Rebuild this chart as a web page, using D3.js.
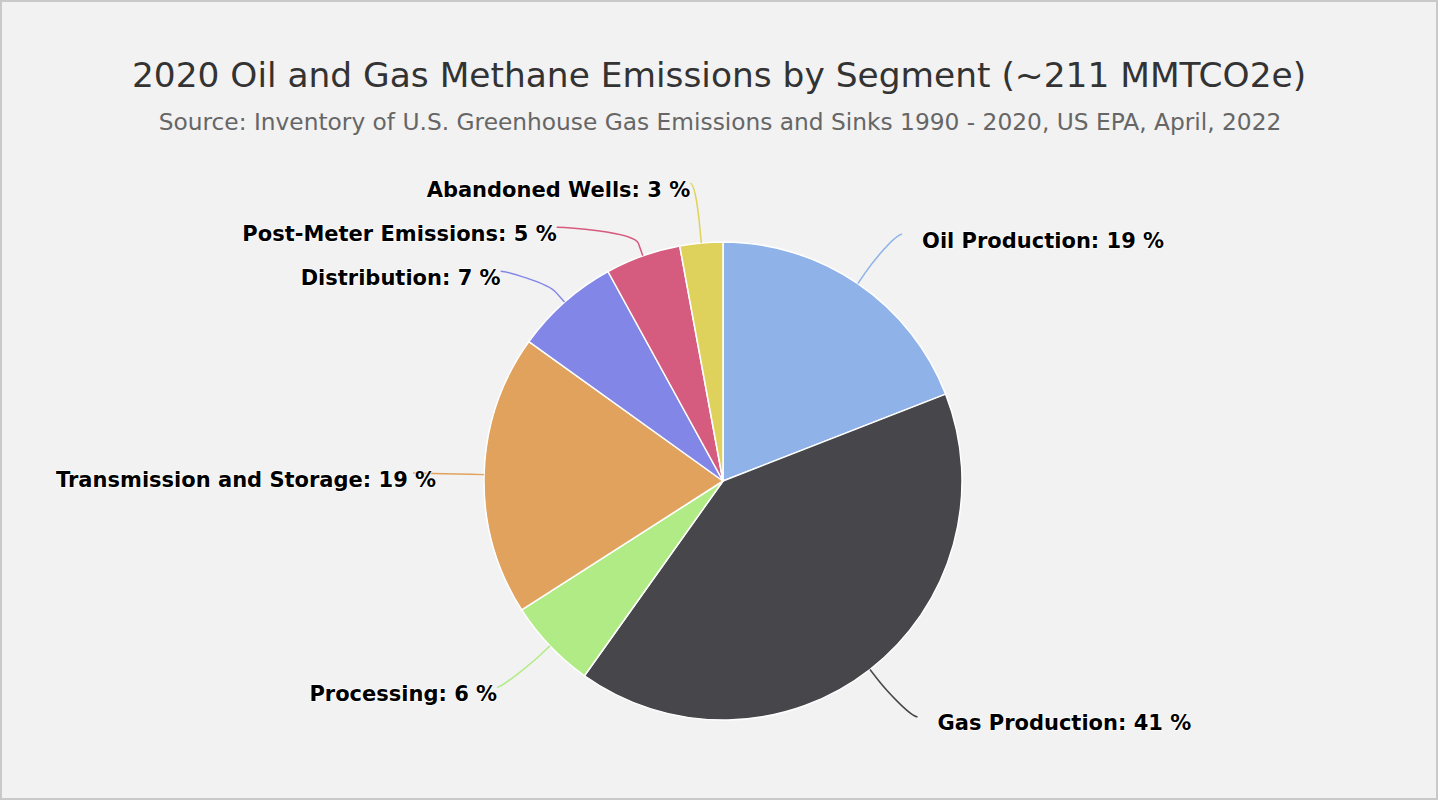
<!DOCTYPE html>
<html>
<head>
<meta charset="utf-8">
<script src="https://cdn.jsdelivr.net/npm/d3@7"></script>
<style>
  html, body { margin: 0; padding: 0; background: #fff; }
  svg { display: block; font-family: "DejaVu Sans", "Lucida Grande", sans-serif; }
</style>
</head>
<body>
<div id="chart"></div>
<script>
// Data (percent of ~211 MMTCO2e)
const segments = ["Oil Production", "Gas Production", "Processing", "Transmission and Storage",
                  "Distribution", "Post-Meter Emissions", "Abandoned Wells"];
const shares = [19.1, 40.8, 6.1, 19.0, 7.1, 5.1, 2.9];
const colors = ["#8fb2e9", "#46464b", "#b1eb85", "#e1a25e", "#8286e7", "#d55b7f", "#dfd25c"];

const titleText = "2020 Oil and Gas Methane Emissions by Segment (~211 MMTCO2e)";
const subtitleText = "Source: Inventory of U.S. Greenhouse Gas Emissions and Sinks 1990 - 2020, US EPA, April, 2022";

const W = 1440, H = 800;
const cx = 723, cy = 481, R = 239;
// Label settings
const LABEL_DIST_X = 66;   // horizontal reach of label anchors beyond slice edge
const LABEL_DIST_Y = 60;   // vertical reach
const LABEL_GAP = 44;      // min vertical spacing between labels on a side
const LABEL_TOP = 182, LABEL_BOTTOM = 740;
const LABEL_MIN_X = 56;

const svg = d3.select("#chart").append("svg")
    .attr("width", W)
    .attr("height", H);

svg.append("rect")
    .attr("x", 1).attr("y", 1)
    .attr("width", W - 4).attr("height", H - 2)
    .attr("fill", "#f2f2f2")
    .attr("stroke", "#c9c9c9")
    .attr("stroke-width", 2);

svg.append("text")
    .attr("x", 719).attr("y", 87)
    .attr("text-anchor", "middle")
    .attr("fill", "#333333")
    .style("font-size", "34.4px")
    .text(titleText);

svg.append("text")
    .attr("x", 720).attr("y", 130)
    .attr("text-anchor", "middle")
    .attr("fill", "#666666")
    .style("font-size", "23.3px")
    .text(subtitleText);

const pie = d3.pie().sort(null).value(d => d);
const arcs = pie(shares);
const arc = d3.arc().innerRadius(0).outerRadius(R);

const g = svg.append("g").attr("transform", `translate(${cx},${cy})`);

g.selectAll("path.slice")
    .data(arcs)
    .enter().append("path")
      .attr("class", "slice")
      .attr("d", arc)
      .attr("fill", (d, i) => colors[i])
      .attr("stroke", "#ffffff")
      .attr("stroke-width", 1.5)
      .attr("stroke-linejoin", "round");

// Label placement (natural position on outer ring, then pushed apart per side)
const RX = R + LABEL_DIST_X, RY = R + LABEL_DIST_Y;
const labels = arcs.map((d, i) => {
    const mid = (d.startAngle + d.endAngle) / 2;
    return {
        i: i,
        mid: mid,
        left: mid > Math.PI,
        ny: cy - RY * Math.cos(mid),
        text: segments[i] + ": " + Math.round(d.value) + " %"
    };
});

function distribute(list) {
    list.sort((a, b) => a.ny - b.ny);
    let prev = -Infinity;
    list.forEach(l => {
        l.y = Math.max(l.ny, prev + LABEL_GAP, LABEL_TOP);
        prev = l.y;
    });
    let next = Infinity;
    for (let k = list.length - 1; k >= 0; k--) {
        const l = list[k];
        l.y = Math.min(l.y, next - LABEL_GAP, LABEL_BOTTOM);
        next = l.y;
    }
}
distribute(labels.filter(l => l.left));
distribute(labels.filter(l => !l.left));

labels.forEach(l => {
    const useY = (l.y === LABEL_TOP || l.y === LABEL_BOTTOM) ? l.ny : l.y;
    const t = Math.min(1, Math.abs(useY - cy) / RY);
    const dx = RX * Math.sqrt(1 - t * t);
    l.x = cx + (l.left ? -dx : dx);
    l.tx = cx + R * Math.sin(l.mid);
    l.ty = cy - R * Math.cos(l.mid);
    l.bx = cx + (R + 13) * Math.sin(l.mid);
    l.by = cy - (R + 13) * Math.cos(l.mid);
});
labels.sort((a, b) => a.i - b.i);

svg.append("g").attr("class", "connectors")
    .selectAll("path")
    .data(labels)
    .enter().append("path")
      .attr("fill", "none")
      .attr("stroke", l => colors[l.i])
      .attr("stroke-width", 1.5)
      .attr("d", l => {
          const sx = l.x + (l.left ? -5 : 7);
          return `M${sx},${l.y} C${l.x},${l.y} ${2 * l.bx - l.tx},${2 * l.by - l.ty} ${l.bx},${l.by} L${l.tx},${l.ty}`;
      });

const labelText = svg.append("g").attr("class", "labels")
    .selectAll("text")
    .data(labels)
    .enter().append("text")
      .attr("text-anchor", l => l.left ? "end" : "start")
      .attr("x", l => l.left ? l.x - 5 : l.x + 27)
      .attr("y", l => l.y + 13.5)
      .attr("fill", "#000000")
      .attr("stroke", "#ffffff")
      .attr("stroke-width", 1.5)
      .attr("stroke-linejoin", "round")
      .attr("paint-order", "stroke")
      .style("font-size", "21px")
      .style("font-weight", "bold")
      .text(l => l.text);

// keep labels inside the chart on the left (justify)
labelText.each(function (l) {
    if (!l.left) return;
    const w = this.getComputedTextLength();
    const x = +d3.select(this).attr("x");
    if (x - w < LABEL_MIN_X) {
        d3.select(this).attr("x", LABEL_MIN_X + w);
    }
});
</script>
</body>
</html>
